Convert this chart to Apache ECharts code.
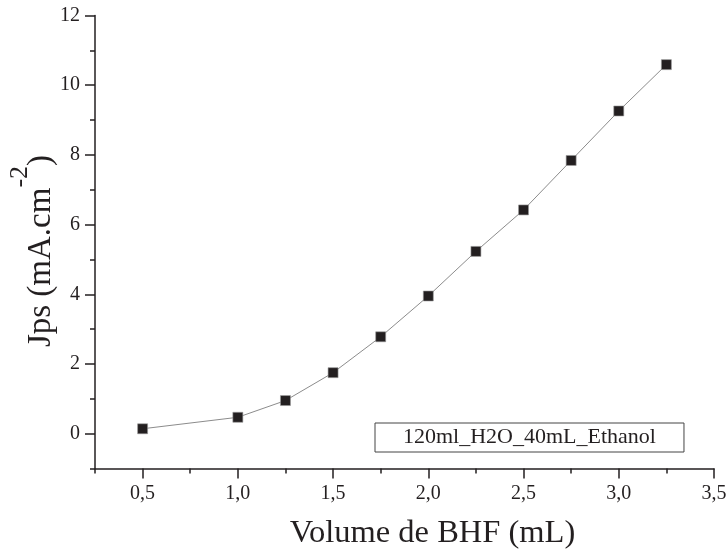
<!DOCTYPE html>
<html>
<head>
<meta charset="utf-8">
<script src="https://cdn.jsdelivr.net/npm/echarts@6/dist/echarts.min.js"></script>
<style>
html,body{margin:0;padding:0;background:#fff;}
#chart{width:727px;height:554px;}
</style>
</head>
<body>
<div id="chart"></div>
<script>
// Data
const seriesName = '120ml_H2O_40mL_Ethanol';
const xValues = [0.5, 1.0, 1.25, 1.5, 1.75, 2.0, 2.25, 2.5, 2.75, 3.0, 3.25];
const yValues = [0.14, 0.47, 0.95, 1.75, 2.78, 3.95, 5.23, 6.42, 7.84, 9.26, 10.59];
const xMajorTicks = [0.5, 1.0, 1.5, 2.0, 2.5, 3.0, 3.5];
const yMajorTicks = [0, 2, 4, 6, 8, 10, 12];
const xTitle = 'Volume de BHF (mL)';

const FONT = 'Liberation Serif';
const INK = '#231f20';

const chart = echarts.init(document.getElementById('chart'), null, {renderer: 'canvas'});

const points = xValues.map((x, i) => [x, yValues[i]]);

const option = {
  animation: false,
  backgroundColor: '#ffffff',
  grid: {left: 95, right: 13, top: 15.5, bottom: 85.5, containLabel: false, outerBoundsMode: 'none'},
  legend: {
    data: [seriesName],
    left: 375,
    top: 423,
    itemWidth: 0,
    itemHeight: 0,
    itemGap: 0,
    padding: [3, 28, 4, 22],
    borderColor: '#444',
    borderWidth: 1,
    textStyle: {fontFamily: FONT, fontSize: 22, color: INK},
    selectedMode: false
  },
  xAxis: [
    {
      type: 'value', min: 0.25, max: 3.5, interval: 0.25,
      position: 'bottom',
      splitLine: {show: false},
      axisLine: {show: true, onZero: false, lineStyle: {color: INK, width: 1.5}},
      axisTick: {show: true, inside: false, length: 5, lineStyle: {color: INK, width: 1.5}},
      axisLabel: {
        margin: 15, fontFamily: FONT, fontSize: 20, color: INK,
        formatter: v => (xMajorTicks.some(t => Math.abs(t - v) < 1e-9) ? v.toFixed(1).replace('.', ',') : '')
      },
      name: xTitle,
      nameLocation: 'middle',
      nameGap: 48,
      nameTextStyle: {fontFamily: FONT, fontSize: 32.5, color: INK, padding: [0, 0, 0, 56]}
    },
    {
      type: 'value', min: 0.25, max: 3.5, interval: 0.25,
      position: 'bottom',
      splitLine: {show: false},
      axisLine: {show: false, onZero: false},
      axisTick: {show: true, inside: false, length: 10, customValues: xMajorTicks, lineStyle: {color: INK, width: 1.5}},
      axisLabel: {show: false}
    }
  ],
  yAxis: [
    {
      type: 'value', min: -1, max: 12, interval: 1,
      position: 'left',
      splitLine: {show: false},
      axisLine: {show: true, onZero: false, lineStyle: {color: INK, width: 1.5}},
      axisTick: {show: true, inside: false, length: 5, lineStyle: {color: INK, width: 1.5}},
      axisLabel: {
        margin: 15, fontFamily: FONT, fontSize: 20, color: INK,
        formatter: v => (yMajorTicks.indexOf(v) >= 0 ? String(v) : '')
      },
      name: '{b|Jps (mA.cm}{s|-2}{b|)}',
      nameLocation: 'middle',
      nameMoveOverlap: false,
      nameGap: 37,
      nameTextStyle: {
        fontFamily: FONT, fontSize: 33, color: INK,
        padding: [0, 18, 0, 0],
        rich: {
          b: {fontFamily: FONT, fontSize: 33, color: INK, verticalAlign: 'bottom', lineHeight: 35},
          s: {fontFamily: FONT, fontSize: 26, color: INK, verticalAlign: 'bottom', padding: [0, 0, 25, 0]}
        }
      }
    },
    {
      type: 'value', min: -1, max: 12, interval: 1,
      position: 'left',
      splitLine: {show: false},
      axisLine: {show: false, onZero: false},
      axisTick: {show: true, inside: false, length: 10, customValues: yMajorTicks, lineStyle: {color: INK, width: 1.5}},
      axisLabel: {show: false}
    }
  ],
  series: [
    {
      name: seriesName,
      type: 'line',
      xAxisIndex: 0,
      yAxisIndex: 0,
      data: points,
      symbol: 'rect',
      symbolSize: 10,
      showSymbol: true,
      lineStyle: {color: '#8c8c8c', width: 1},
      itemStyle: {color: INK, borderColor: '#9a9a9a', borderWidth: 0.6},
      emphasis: {disabled: true}
    }
  ]
};

chart.setOption(option);
</script>
</body>
</html>
